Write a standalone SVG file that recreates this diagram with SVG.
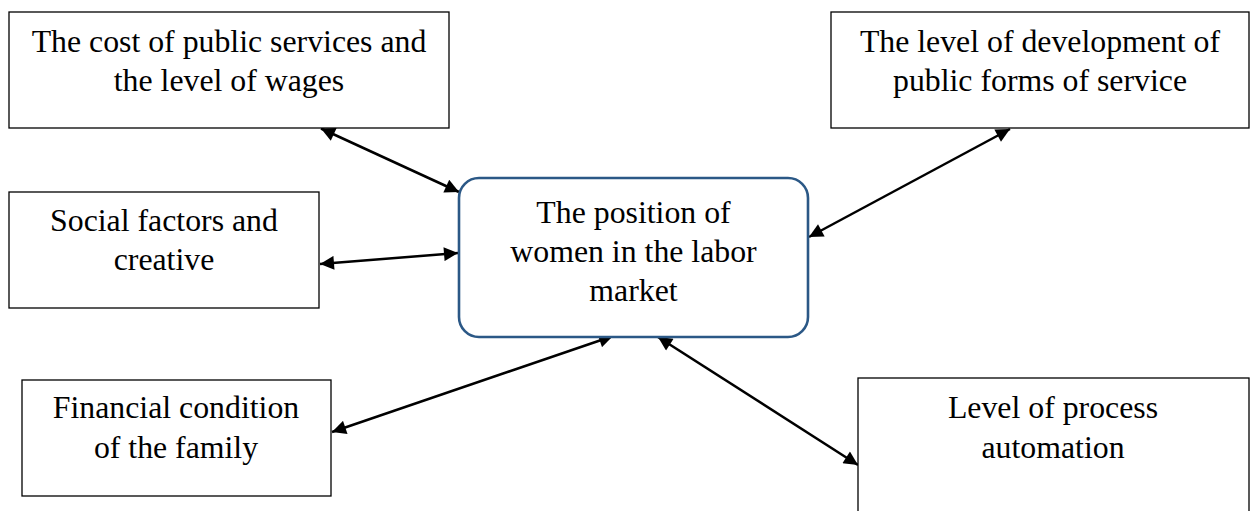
<svg xmlns="http://www.w3.org/2000/svg" width="1257" height="511" viewBox="0 0 1257 511">
<defs>
<marker id="ah" viewBox="0 0 10 10" refX="10" refY="5" markerWidth="6.8" markerHeight="5.6" orient="auto-start-reverse" markerUnits="strokeWidth">
<path d="M0,0 L10,5 L0,10 z" fill="#000"/>
</marker>
</defs>
<style>
.box{fill:#fff;stroke:#000;stroke-width:1.3}
.ctr{fill:#fff;stroke:#2b5886;stroke-width:2.6}
.t{font-family:"Liberation Serif","Times New Roman",serif;font-size:31.8px;fill:#000;text-anchor:middle}
.c{stroke:#000;stroke-width:2.5;fill:none;marker-start:url(#ah);marker-end:url(#ah)}
</style>
<rect width="1257" height="511" fill="#fff"/>
<g id="connectors">
<line class="c" x1="321" y1="128.5" x2="459" y2="192"/>
<line class="c" x1="1010" y1="129" x2="809" y2="237"/>
<line class="c" x1="320" y1="264" x2="458" y2="253"/>
<line class="c" x1="332" y1="432" x2="613" y2="336"/>
<line class="c" x1="658" y1="337" x2="858" y2="465"/>
</g>
<g id="n-cost">
<rect class="box" x="9" y="12" width="440" height="116"/>
<text class="t" x="229" y="52">The cost of public services and</text>
<text class="t" x="229" y="91">the level of wages</text>
</g>
<g id="n-dev">
<rect class="box" x="831" y="12" width="418" height="116"/>
<text class="t" x="1040" y="52">The level of development of</text>
<text class="t" x="1040" y="91">public forms of service</text>
</g>
<g id="n-social">
<rect class="box" x="9" y="192" width="310" height="116"/>
<text class="t" x="164" y="231">Social factors and</text>
<text class="t" x="164" y="270">creative</text>
</g>
<g id="n-center">
<rect class="ctr" x="459" y="178" width="349" height="159" rx="20" ry="20"/>
<text class="t" x="633.5" y="223">The position of</text>
<text class="t" x="633.5" y="262">women in the labor</text>
<text class="t" x="633.5" y="301">market</text>
</g>
<g id="n-fin">
<rect class="box" x="22" y="380" width="309" height="116"/>
<text class="t" x="176" y="418">Financial condition</text>
<text class="t" x="176" y="458">of the family</text>
</g>
<g id="n-auto">
<rect class="box" x="858" y="378" width="391" height="140"/>
<text class="t" x="1053" y="418">Level of process</text>
<text class="t" x="1053" y="458">automation</text>
</g>
</svg>
